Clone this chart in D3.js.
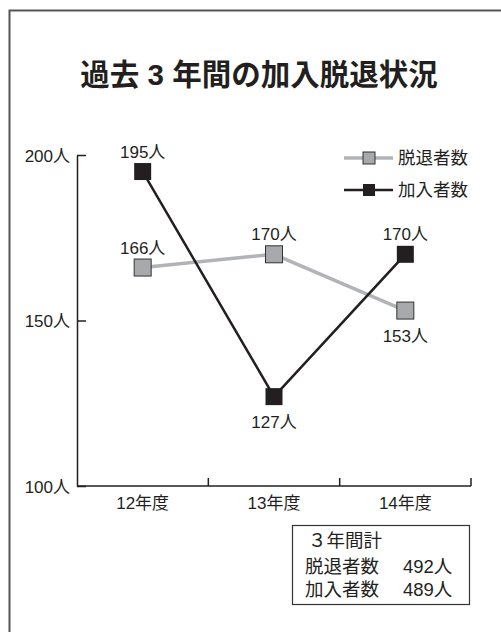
<!DOCTYPE html>
<html>
<head>
<meta charset="utf-8">
<script src="https://cdn.jsdelivr.net/npm/d3@7"></script>
<style>
  body { margin: 0; background: #fff; }
  text { font-family: "Liberation Sans", "Noto Sans CJK JP", sans-serif; fill: #231f20; }
</style>
</head>
<body>
<div id="chart"></div>
<script>
const years = ["12年度", "13年度", "14年度"];
const joined = [195, 127, 170];   // 加入者数
const left = [166, 170, 153];     // 脱退者数
const yTicks = [100, 150, 200];
const seriesNames = ["脱退者数", "加入者数"];
const totalTitle = "３年間計";
const totals = [492, 489];        // 脱退, 加入
const title = "過去 3 年間の加入脱退状況";

const width = 501, height = 632;
const ink = "#231f20", grey = "#a7a9ac";

const svg = d3.select("#chart").append("svg")
  .attr("width", width).attr("height", height);

// outer frame (runs off right and bottom edges)
svg.append("rect")
  .attr("x", 9.5).attr("y", 10.5)
  .attr("width", 700).attr("height", 800)
  .attr("fill", "none").attr("stroke", "#555").attr("stroke-width", 2);

svg.append("text")
  .attr("x", 259).attr("y", 85)
  .attr("text-anchor", "middle")
  .style("font-size", "29.5px").style("font-weight", "bold")
  .text(title);

// scales
let x = d3.scaleBand().domain(years).range([77, 471]);
let y = d3.scaleLinear().domain([100, 200]).range([486, 155]);
const cx = d => x(d) + x.bandwidth() / 2;

// y axis
let yAxis = svg.append("g")
  .attr("transform", "translate(77,0)")
  .call(d3.axisLeft(y).tickValues(yTicks).tickSizeInner(-9).tickSizeOuter(0).tickPadding(7)
    .tickFormat(d => d + "人"));
yAxis.select(".domain").attr("stroke", ink).attr("stroke-width", 1.5);
yAxis.selectAll(".tick line").attr("stroke", ink).attr("stroke-width", 1.5);
yAxis.selectAll(".tick text").attr("dy", "6").style("font-size", "17px")
  .attr("fill", ink);

// x axis: labels centred, ticks on band boundaries
let xAxis = svg.append("g")
  .attr("transform", "translate(0,486)")
  .call(d3.axisBottom(x).tickSize(0).tickPadding(0));
xAxis.select(".domain").remove();
xAxis.selectAll(".tick text").attr("dy", "23").attr("y", 0).style("font-size", "17px")
  .attr("fill", ink);
svg.append("line")
  .attr("x1", 77).attr("x2", 471).attr("y1", 486).attr("y2", 486)
  .attr("stroke", ink).attr("stroke-width", 1.5);
svg.selectAll(".xtick").data(years).enter().append("line")
  .attr("x1", d => x(d) + x.bandwidth()).attr("x2", d => x(d) + x.bandwidth())
  .attr("y1", 486).attr("y2", 478)
  .attr("stroke", ink).attr("stroke-width", 1.5);

// lines
let line = d3.line().x((d, i) => cx(years[i])).y(d => y(d));
svg.append("path").attr("d", line(left))
  .attr("fill", "none").attr("stroke", "#b1b3b6").attr("stroke-width", 3.5);
svg.append("path").attr("d", line(joined))
  .attr("fill", "none").attr("stroke", ink).attr("stroke-width", 2.5);

const m = 17;
svg.selectAll(".mLeft").data(left).enter().append("rect")
  .attr("x", (d, i) => cx(years[i]) - m / 2).attr("y", d => y(d) - m / 2)
  .attr("width", m).attr("height", m)
  .attr("fill", grey).attr("stroke", "#333").attr("stroke-width", 1);
svg.selectAll(".mJoin").data(joined).enter().append("rect")
  .attr("x", (d, i) => cx(years[i]) - m / 2).attr("y", d => y(d) - m / 2)
  .attr("width", m).attr("height", m)
  .attr("fill", ink);

// value labels: above or below marker
const leftPos = ["above", "above", "below"];
const joinPos = ["above", "below", "above"];
function labels(vals, pos) {
  svg.selectAll(null).data(vals).enter().append("text")
    .attr("x", (d, i) => cx(years[i]))
    .attr("y", (d, i) => y(d) + (pos[i] === "above" ? -14 : 31))
    .attr("text-anchor", "middle")
    .style("font-size", "17px")
    .text(d => d + "人");
}
labels(left, leftPos);
labels(joined, joinPos);

// legend
const legendY = [158, 190];
const legendStyle = [
  { stroke: "#b1b3b6", sw: 3.5, fill: grey, outline: "#333" },
  { stroke: ink, sw: 2.5, fill: ink, outline: "none" }
];
seriesNames.forEach((name, i) => {
  const g = svg.append("g").attr("transform", "translate(0," + legendY[i] + ")");
  g.append("line").attr("x1", 344).attr("x2", 393)
    .attr("stroke", legendStyle[i].stroke).attr("stroke-width", legendStyle[i].sw);
  g.append("rect").attr("x", 363).attr("y", -6).attr("width", 12).attr("height", 12)
    .attr("fill", legendStyle[i].fill).attr("stroke", legendStyle[i].outline);
  g.append("text").attr("x", 398).attr("y", 6)
    .style("font-size", "17.5px").text(name);
});

// totals box
svg.append("rect")
  .attr("x", 292.5).attr("y", 525.5).attr("width", 177).attr("height", 79)
  .attr("fill", "none").attr("stroke", "#333").attr("stroke-width", 1.2);
svg.append("text").attr("x", 308).attr("y", 547).style("font-size", "18.5px").text(totalTitle);
seriesNames.forEach((name, i) => {
  svg.append("text").attr("x", 305).attr("y", 573 + i * 23)
    .style("font-size", "18.5px").text(name);
  svg.append("text").attr("x", 403).attr("y", 573 + i * 23)
    .style("font-size", "18.5px").text(totals[i] + "人");
});
</script>
</body>
</html>
